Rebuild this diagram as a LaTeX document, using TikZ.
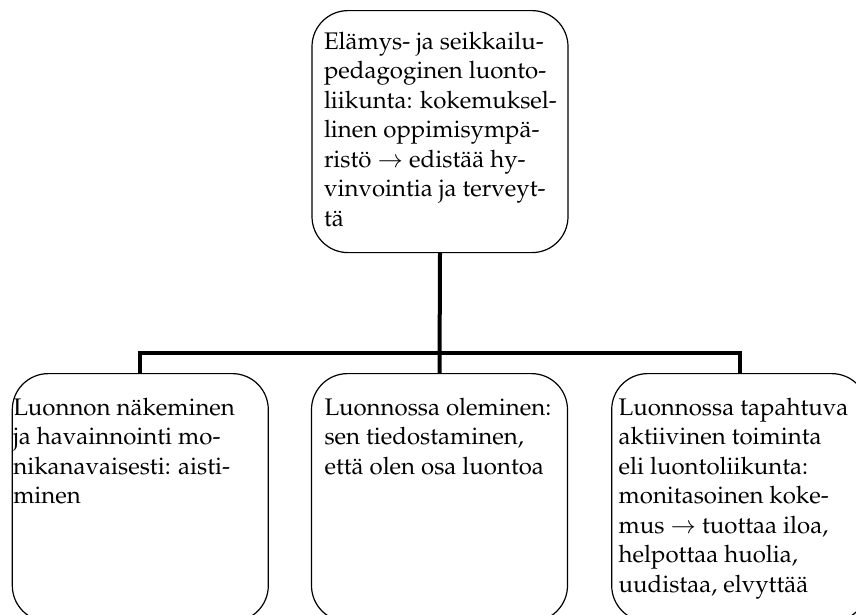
\documentclass[tikz,border=0pt]{standalone}
\usepackage[T1]{fontenc}
\usepackage{mathpazo}
\usetikzlibrary{positioning}

\newcommand\stagetext[2]{\parbox[t][206pt][t]{#1}{%
  \begin{tabular}[t]{@{}l@{}}#2\end{tabular}}}

\begin{document}
\begin{tikzpicture}[x=1pt,y=-1pt,
  stage/.style={draw,line width=1.2pt,rounded corners=36pt,
   inner sep=0pt,minimum width=256pt,minimum height=#1,anchor=north,
   font=\fontsize{24pt}{29.5pt}\selectfont},
  bar/.style={line width=4pt}]
 \useasboundingbox (0,0) rectangle (856,614);
 \clip (0,0) rectangle (856,614);
 \node[stage=242pt] (core) at (440,10) {\stagetext{232pt}{%
  Elämys- ja seikkailu-\\ pedagoginen luonto-\\ liikunta: kokemuksel-\\
  linen oppimisympä-\\ ristö $\rightarrow$ edistää hy-\\
  vinvointia ja terveyt-\\ tä}};
 \node[stage=248pt] (being) at (439.5,373) {\stagetext{230pt}{%
  Luonnossa oleminen:\\ sen tiedostaminen,\\ että olen osa luontoa}};
 \node[stage=248pt,left=42pt of being] (senses) {\stagetext{254pt}{%
  Luonnon näkeminen\\ ja havainnointi mo-\\ nikanavaisesti: aisti-\\ minen}};
 \node[stage=248pt,right=43pt of being] (action) {\stagetext{242pt}{%
  Luonnossa tapahtuva\\ aktiivinen toiminta\\ eli luontoliikunta:\\
  monitasoinen koke-\\ mus $\rightarrow$ tuottaa iloa,\\
  helpottaa huolia,\\ uudistaa, elvyttää}};
 \draw[bar] (core.south) -- (being.north);
 \draw[bar] (senses.north) -- ++(0,-20) -| (action.north);
\end{tikzpicture}
\end{document}
